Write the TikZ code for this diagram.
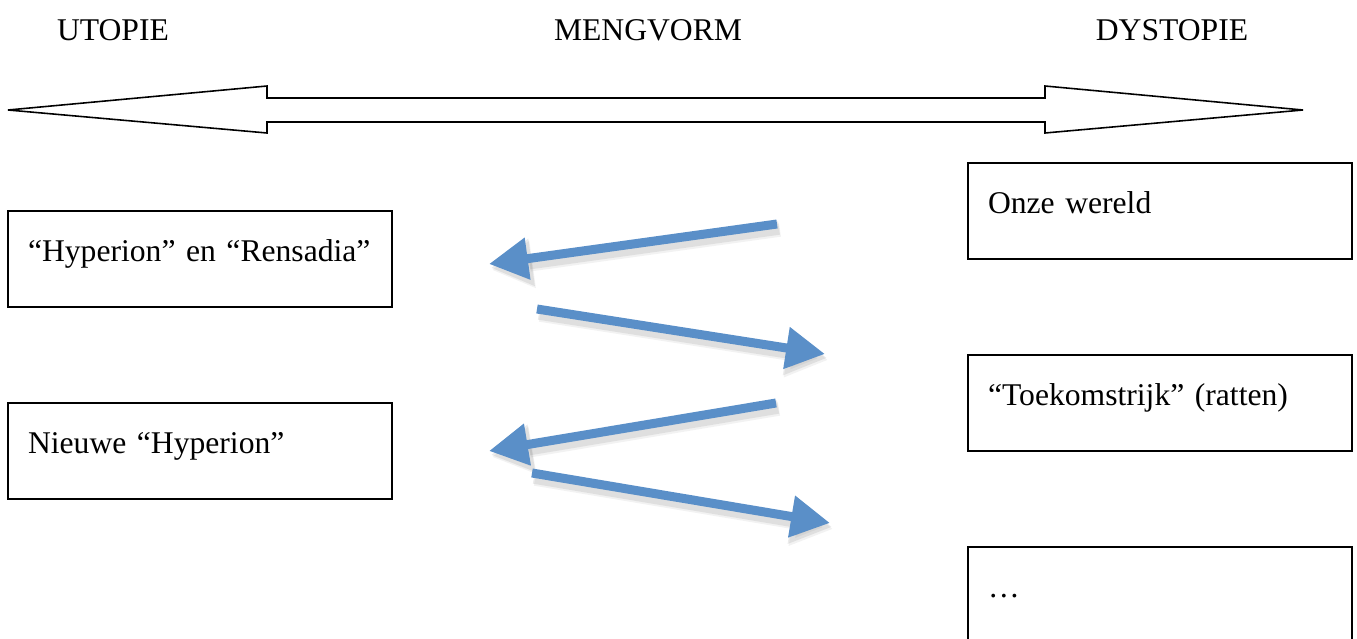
\documentclass[tikz,border=0pt]{standalone}
\usepackage{fontspec}
\setmainfont{Liberation Serif}
\usetikzlibrary{arrows.meta}
\definecolor{pijlblauw}{RGB}{90,143,200}
\tikzset{
  kop/.style={font=\fontsize{18}{22}\selectfont},
  vak/.style={draw, line width=1pt, minimum width=7.68cm, minimum height=1.92cm,
    text width=6.88cm, inner xsep=0.4cm, inner ysep=0pt, align=left,
    text height=0.44cm, text depth=0.36cm, font=\fontsize{18}{22}\selectfont},
  pijl/.style={pijlblauw, line width=0.18cm, -{Triangle[length=0.78cm,width=0.8cm]}},
  schaduw/.style={black, opacity=#1, line width=0.27cm, -{Triangle[length=0.82cm,width=0.9cm]}}
}
\begin{document}
\begin{tikzpicture}[x=0.02cm, y=-0.02cm]
  \useasboundingbox (0,0) rectangle (1357,639);
  % koppen
  \node[kop] (utopie) at (113,30) {UTOPIE};
  \node[kop] (mengvorm) at (648,30) {MENGVORM};
  \node[kop] (dystopie) at (1172,30) {DYSTOPIE};
  % dubbele pijl
  \draw[line width=0.9pt, line join=miter] (8,110) -- (267,86) -- (267,98) -- (1045,98) -- (1045,86)
    -- (1303,110) -- (1045,133) -- (1045,122) -- (267,122) -- (267,133) -- cycle;
  % vakken links
  \node[vak] (hyperion) at (200,259) {“Hyperion” en “Rensadia”};
  \node[vak] (nieuw) at (200,451) {Nieuwe “Hyperion”};
  % vakken rechts
  \node[vak] (wereld) at (1160,211) {Onze wereld};
  \node[vak] (toekomst) at (1160,403) {“Toekomstrijk” (ratten)};
  \node[vak] (verder) at (1160,595) {…};
  % blauwe pijlen
  \coordinate (p1s) at (777,224); \coordinate (p1e) at (489,264);
  \coordinate (p2s) at (537,309); \coordinate (p2e) at (825,354);
  \coordinate (p3s) at (776,403); \coordinate (p3e) at (489,451);
  \coordinate (p4s) at (532,473); \coordinate (p4e) at (830,523);
  \foreach \s/\e in {p1s/p1e, p2s/p2e, p3s/p3e, p4s/p4e}{
    \draw[schaduw=0.05] ([shift={(3,6)}]\s) -- ([shift={(3,6)}]\e);
    \draw[schaduw=0.08] ([shift={(2,4)}]\s) -- ([shift={(2,4)}]\e);
  }
  \foreach \s/\e in {p1s/p1e, p2s/p2e, p3s/p3e, p4s/p4e}
    \draw[pijl] (\s) -- (\e);
\end{tikzpicture}
\end{document}
